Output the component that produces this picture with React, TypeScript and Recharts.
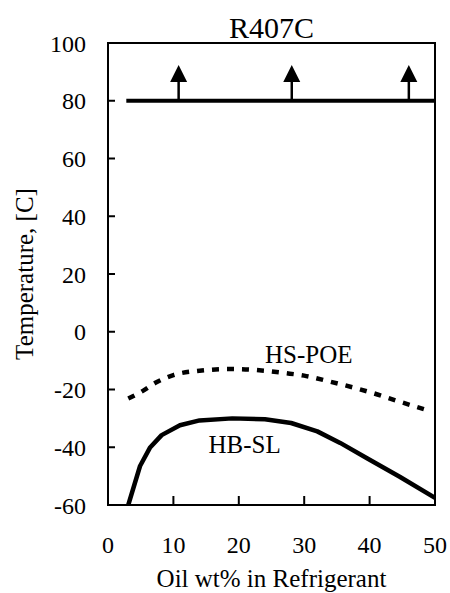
import React from "react";
import {
  ComposedChart,
  Line,
  Scatter,
  XAxis,
  YAxis,
  ReferenceArea,
  ReferenceLine,
  ReferenceDot,
} from "recharts";

// Oil concentration (wt%) vs. temperature for R407C
const hbSlX = [3.1, 4.9, 6.4, 8.2, 11, 14, 19, 24, 28, 32, 35.5, 39.6, 44.6, 50];
const hbSlY = [-60, -46.5, -40.2, -35.8, -32.4, -30.7, -30, -30.3, -31.6, -34.5, -38.5, -43.8, -50.2, -57.5];

const hsPoeX = [3.1, 5.4, 7.4, 10, 14, 19, 24, 27, 30, 34, 37.5, 40.6, 44, 48.3];
const hsPoeY = [-23.1, -20.4, -17.5, -15, -13.5, -12.9, -13.5, -14.3, -15.2, -17.3, -19.3, -21.3, -23.8, -26.8];

// upper miscibility limit (beyond the measured range)
const upperX = [2.8, 50];
const upperY = [80, 80];

// arrows marking "above 80 C"
const arrowX = [10.8, 28.1, 46.0];
const arrowBase = 80;
const arrowNeck = 87;
const arrowTip = 92.4;

const xTicks = [0, 10, 20, 30, 40, 50];
const yTicks = [-60, -40, -20, 0, 20, 40, 60, 80, 100];

const hbSl = hbSlX.map((x, i) => ({ x, y: hbSlY[i] }));
const hsPoe = hsPoeX.map((x, i) => ({ x, y: hsPoeY[i] }));
const upper = upperX.map((x, i) => ({ x, y: upperY[i] }));
const heads = arrowX.map((x) => ({ x, y: arrowTip }));

const FONT = '"Liberation Serif", "Times New Roman", serif';

const ArrowHead = (props: any) => {
  const { cx, cy } = props;
  return (
    <path
      d={`M${cx},${cy} L${cx - 8.5},${cy + 17} L${cx + 8.5},${cy + 17} Z`}
      fill="#000"
    />
  );
};

export default function App() {
  return (
    <div style={{ position: "absolute", left: 0, top: 0, background: "#fff", fontFamily: FONT }}>
      <ComposedChart
        width={450}
        height={593}
        margin={{ top: 43, right: 15, left: 0, bottom: 0 }}
        style={{ fontFamily: FONT }}
      >
        <text x={271.5} y={38} textAnchor="middle" fontSize={30} fill="#000" fontFamily={FONT}>
          R407C
        </text>
        <XAxis
          dataKey="x"
          type="number"
          domain={[0, 50]}
          ticks={xTicks}
          allowDataOverflow
          height={88}
          tickSize={-9}
          tickMargin={40}
          axisLine={{ stroke: "#000", strokeWidth: 2 }}
          tickLine={{ stroke: "#000", strokeWidth: 2 }}
          tick={{ fill: "#000", fontSize: 24, fontFamily: FONT }}
          label={{
            content: (p: any) => {
              const vb = p.viewBox;
              return (
                <text
                  x={vb.x + vb.width / 2}
                  y={vb.y + 82}
                  textAnchor="middle"
                  fontSize={25}
                  fill="#000"
                  fontFamily={FONT}
                >
                  Oil wt% in Refrigerant
                </text>
              );
            },
          }}
        />
        <YAxis
          type="number"
          domain={[-60, 100]}
          ticks={yTicks}
          allowDataOverflow
          width={108}
          tickSize={-7}
          tickMargin={29}
          axisLine={{ stroke: "#000", strokeWidth: 2 }}
          tickLine={{ stroke: "#000", strokeWidth: 2 }}
          tick={{ fill: "#000", fontSize: 24, fontFamily: FONT }}
          label={{
            content: (p: any) => {
              const vb = p.viewBox;
              const cx = 33;
              const cy = vb.y + vb.height / 2;
              return (
                <text
                  x={cx}
                  y={cy}
                  transform={`rotate(-90, ${cx}, ${cy})`}
                  textAnchor="middle"
                  fontSize={25}
                  fill="#000"
                  fontFamily={FONT}
                >
                  Temperature, [C]
                </text>
              );
            },
          }}
        />
        <ReferenceArea
          x1={0}
          x2={50}
          y1={-60}
          y2={100}
          fill="none"
          stroke="#000"
          strokeWidth={2}
        />
        <Line
          data={upper}
          dataKey="y"
          type="linear"
          stroke="#000"
          strokeWidth={4}
          dot={false}
          isAnimationActive={false}
        />
        {arrowX.map((x) => (
          <ReferenceLine
            key={x}
            segment={[
              { x, y: arrowBase },
              { x, y: arrowNeck },
            ]}
            stroke="#000"
            strokeWidth={2.5}
          />
        ))}
        <Scatter
          data={heads}
          dataKey="y"
          shape={ArrowHead}
          isAnimationActive={false}
        />
        <Line
          data={hsPoe}
          dataKey="y"
          type="monotone"
          stroke="#000"
          strokeWidth={4.5}
          strokeDasharray="7 8"
          dot={false}
          isAnimationActive={false}
        />
        <Line
          data={hbSl}
          dataKey="y"
          type="linear"
          stroke="#000"
          strokeWidth={4.5}
          strokeLinejoin="round"
          dot={false}
          isAnimationActive={false}
        />
        <ReferenceDot
          x={30.7}
          y={-7.6}
          r={0}
          fill="none"
          stroke="none"
          label={{ value: "HS-POE", position: "center", fontSize: 25, fill: "#000", fontFamily: FONT }}
        />
        <ReferenceDot
          x={20.9}
          y={-38.8}
          r={0}
          fill="none"
          stroke="none"
          label={{ value: "HB-SL", position: "center", fontSize: 25, fill: "#000", fontFamily: FONT }}
        />
      </ComposedChart>
    </div>
  );
}
